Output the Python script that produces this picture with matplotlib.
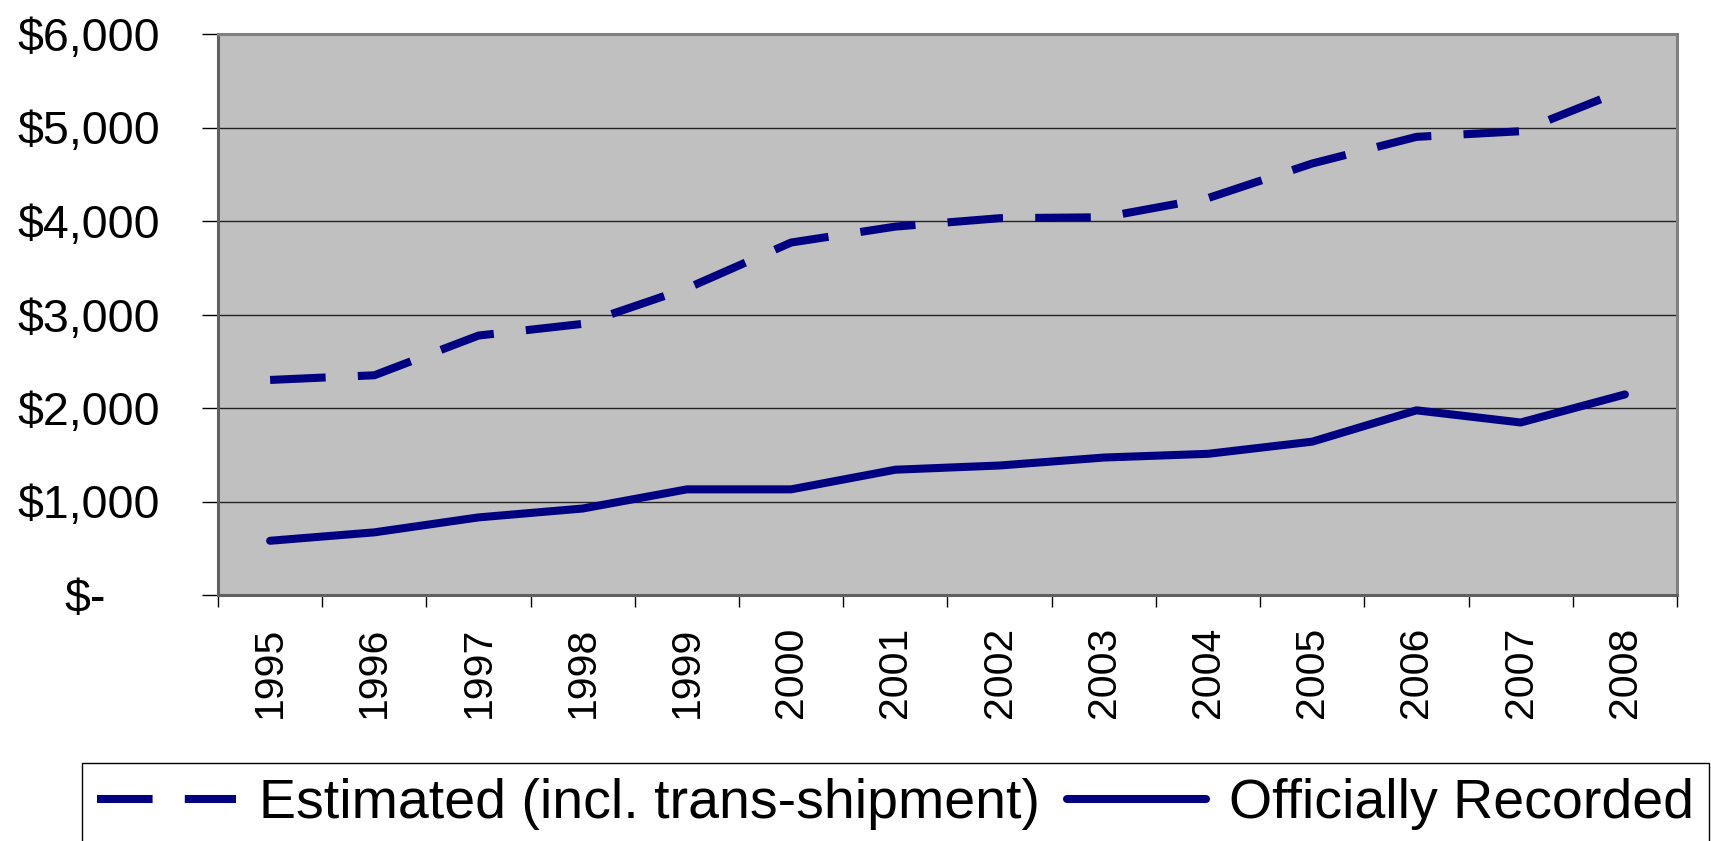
import numpy as np
import matplotlib
matplotlib.use("Agg")
import matplotlib.pyplot as plt
from matplotlib.transforms import ScaledTranslation

plt.rcParams['font.family'] = ['Liberation Sans', 'DejaVu Sans']

years = ["1995", "1996", "1997", "1998", "1999", "2000", "2001",
         "2002", "2003", "2004", "2005", "2006", "2007", "2008"]
estimated = [2300, 2350, 2775, 2900, 3280, 3770, 3940,
             4030, 4040, 4245, 4615, 4900, 4960, 5405]
official = [580, 670, 830, 925, 1130, 1130, 1340,
            1385, 1470, 1510, 1640, 1975, 1845, 2145]
ytick_vals = [0, 1000, 2000, 3000, 4000, 5000, 6000]
ytick_labels = ["$-", "$1,000", "$2,000", "$3,000", "$4,000", "$5,000", "$6,000"]
series_names = ["Estimated (incl. trans-shipment)", "Officially Recorded"]

W, H = 1711, 841
fig = plt.figure(figsize=(W / 100, H / 100), dpi=100)
ax = fig.add_axes([218 / W, 1 - 595 / H, (1677 - 218) / W, (595 - 34) / H])
ax.set_facecolor("#C0C0C0")

x = np.arange(len(years))
navy = "#000080"
ax.plot(x, estimated, color=navy, lw=5.8, linestyle=(0, (6.9, 4.0)),
        dash_capstyle="butt", solid_joinstyle="miter", label=series_names[0], zorder=3)
ax.plot(x, official, color=navy, lw=5.8, solid_capstyle="round",
        solid_joinstyle="round", label=series_names[1], zorder=3)

ax.set_xlim(-0.5, len(years) - 0.5)
ax.set_ylim(0, 6000)

# y axis
ax.set_yticks(ytick_vals)
ax.set_yticklabels(ytick_labels, fontsize=33.5)
ax.tick_params(axis="y", direction="out", length=11.5, width=1, color="black", pad=30)
ax.yaxis.grid(True, color="#222222", lw=1.0)
ax.set_axisbelow(True)
# shift "$-" label left (accounting format alignment)
lab0 = ax.get_yticklabels()[0]
lab0.set_transform(lab0.get_transform() + ScaledTranslation(-54 / 100, 0, fig.dpi_scale_trans))

# x axis: ticks between categories, labels at centers
ax.set_xticks(np.arange(-0.5, len(years), 1.0))
ax.set_xticklabels([])
ax.set_xticks(x, minor=True)
ax.set_xticklabels(years, minor=True, rotation=90, fontsize=29.5)
ax.tick_params(axis="x", which="major", direction="out", length=8.6, width=1, color="black")
ax.tick_params(axis="x", which="minor", length=0, pad=23)

for s in ax.spines.values():
    s.set_color("#808080")
    s.set_linewidth(2.2)
ax.spines["left"].set_color("#606060")
ax.spines["bottom"].set_color("#606060")

leg = fig.legend(loc="upper left", bbox_to_anchor=(82 / W, 1 - 763 / H),
                 bbox_transform=fig.transFigure, borderaxespad=0, ncol=2,
                 fontsize=40, handlelength=2.5, handletextpad=0.41,
                 columnspacing=0.5, borderpad=0.27, frameon=True, fancybox=False)
leg.get_frame().set_edgecolor("black")
leg.get_frame().set_linewidth(1.0)
leg.get_frame().set_alpha(1)

fig.savefig("out.png", dpi=100, facecolor="white")
